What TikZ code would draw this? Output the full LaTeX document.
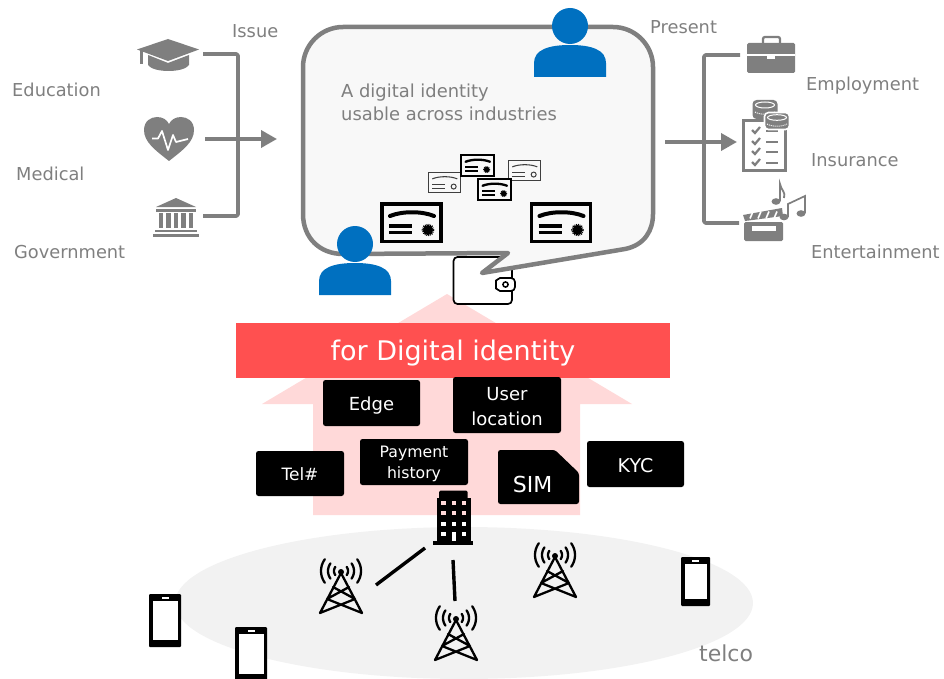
\documentclass[tikz,border=0pt]{standalone}
\usepackage{fontspec}
\setmainfont{DejaVu Sans}
\usetikzlibrary{arrows.meta}
\definecolor{gr}{HTML}{7F7F7F}
\definecolor{bubblefill}{HTML}{F8F8F8}
\definecolor{pinkarrow}{HTML}{FFD9D9}
\definecolor{banner}{HTML}{FF5050}
\definecolor{ground}{HTML}{F2F2F2}
\definecolor{person}{HTML}{0070C0}
\newcommand{\fsz}[1]{\fontsize{#1}{#1}\selectfont}
\newcommand{\sunk}[2]{\raisebox{-#1pt}[\height][\depth]{#2}}
\tikzset{
  lbl/.style={text=gr,font=\fsz{17.8},inner sep=0pt,anchor=west},
  blackbox/.style={fill=black,rounded corners=2.5pt,text=white,inner sep=0pt,align=center,font=\fsz{18}},
  connector/.style={draw=gr,line width=3.6pt,line join=round},
  flowarrow/.style={draw=gr,line width=3.6pt,-{Triangle[length=16pt,width=17pt]}},
  link/.style={draw=black,line width=3.4pt},
}
\newcommand{\cert}[5]{% x y width col linewidth
  \begin{scope}[shift={(#1,#2)},x=#3/63*1pt,y=-#3/63*1pt]
    \draw[#4,line width=#5pt,fill=bubblefill] (2,2) rectangle (61,39.5);
    \draw[#4,line width=#5pt*1.05,line cap=round] (10,14) .. controls (22,9) and (42,9) .. (54,14);
    \draw[#4,line width=#5pt*0.8] (9,24) -- (32,24) (9,30.5) -- (32,30.5);
    \ifdim#5pt>1.5pt
      \fill[#4] (48,28) circle (5);
      \draw[#4,line width=#5pt*0.5,dash pattern=on 0.9 off 0.9] (48,28) circle (5.4);
    \else
      \draw[#4,line width=#5pt] (48,28) circle (4.5);
    \fi
  \end{scope}}
\newcommand{\tower}[2]{%
  \begin{scope}[shift={(#1,#2)}]
    \fill (0,0) circle (3);
    \draw[line width=2.3pt,line cap=round,line join=round] (-21,41) -- (0,1) -- (21,41)
      (-8,15) -- (14,27) (8,15) -- (-14,27) (-14,27) -- (21,41) (14,27) -- (-21,41);
    \foreach \r in {7,13,20} {
      \draw[line width=2.3pt,line cap=round] plot[domain=-36:36,samples=12,smooth] ({\r*cos(\x)},{\r*sin(\x)-1});
      \draw[line width=2.3pt,line cap=round] plot[domain=-36:36,samples=12,smooth] ({-\r*cos(\x)},{\r*sin(\x)-1});
    }
  \end{scope}}
\newcommand{\phoneicon}[4]{%
  \fill[black,rounded corners=1pt] (#1,#2) rectangle (#3,#4);
  \fill[white] (#1+3.5,#2+7) rectangle (#3-3.5,#4-7);
  \fill[white] ({(#1+#3)/2-3.5},#2+3) rectangle ({(#1+#3)/2+3.5},#2+5);}
\newcommand{\personicon}[2]{%
  \begin{scope}[shift={(#1,#2)}]
    \fill[person] (0,0) circle (18);
    \fill[person] (-36,51) -- (-36,37) .. controls (-36,24) and (-22,19) .. (0,19) .. controls (22,19) and (36,24) .. (36,37) -- (36,51) -- cycle;
  \end{scope}}
\begin{document}
\begin{tikzpicture}[x=1pt,y=-1pt]
\useasboundingbox (0,0) rectangle (944,679);
% ground
\fill[ground] (464,603) ellipse [x radius=289pt,y radius=76pt];
% big arrow
\fill[pinkarrow] (447,294) -- (632,404) -- (580,404) -- (580,515) -- (313,515) -- (313,404) -- (262,404) -- cycle;
% banner
\node[fill=banner,minimum width=434pt,minimum height=55pt,inner sep=0pt,text=white,font=\fsz{27}] (banner) at (453,350.5) {\sunk{3}{for Digital identity}};
% wallet
\draw[black,line width=1.7pt,rounded corners=4pt,fill=white] (453.5,257) rectangle (512,304);
\draw[black,line width=1.7pt,rounded corners=4pt,fill=white] (515,278) -- (504,278) .. controls (499,278) and (496,281) .. (496,284.5) .. controls (496,288) and (499,291) .. (504,291) -- (515,291) -- cycle;
\draw[black,line width=1.5pt] (505.5,284.5) circle (2.6);
% bubble
\draw[gr,line width=4.5pt,fill=bubblefill,line join=round]
  (343,27) -- (613,27) .. controls (635,27) and (653,45) .. (653,67) -- (653,214)
  .. controls (653,230) and (645,245) .. (625,249) -- (482,273) -- (508,253) -- (343,254)
  .. controls (320,254) and (303,238) .. (303,214) -- (303,67) .. controls (303,45) and (321,27) .. (343,27) -- cycle;
\node[text=gr,font=\fsz{17.9},inner sep=0pt,anchor=west] (bubbletext1) at (341,93) {A digital identity};
\node[text=gr,font=\fsz{17.9},inner sep=0pt,anchor=west] (bubbletext2) at (341,113.5) {usable across industries};
% certificates
\cert{427}{171}{35}{gr!50!black}{1}
\cert{507}{159}{35}{gr!50!black}{1}
\cert{460}{154}{35}{black}{2.2}
\cert{477}{178}{35}{black}{2.2}
\cert{380}{202}{63}{black}{3.8}
\cert{529.5}{202}{63}{black}{3.8}
% persons
\personicon{570}{26}
\personicon{355}{244}
% left side icons
\fill[gr] (137,49.5) -- (168,39) -- (199,49.5) -- (168,61) -- cycle;
\fill[gr] (148,55) -- (168,63) -- (189,55) -- (189,65) .. controls (184,73) and (153,73) .. (148,65) -- cycle;
\draw[gr,line width=3pt] (141.5,50) -- (141.5,64);
\fill[gr] (169,161) .. controls (155,150) and (144,142) .. (144,130) .. controls (144,121) and (151,117) .. (157,117) .. controls (163,117) and (167,120) .. (169,124) .. controls (171,120) and (175,117) .. (181,117) .. controls (187,117) and (194,121) .. (194,130) .. controls (194,142) and (183,150) .. (169,161) -- cycle;
\draw[white,line width=1.7pt,line join=round] (152,138.5) -- (158,138.5) -- (162,131) -- (168,150) -- (173,135) -- (176,142) -- (188,139);
\fill[gr] (156,207) -- (176,198) -- (196,207) -- cycle;
\fill[gr] (156,209) rectangle (196,211.5);
\foreach \c in {158.5,166,173.5,181,188.5} {\fill[gr] (\c,213) rectangle (\c+4.5,228);}
\fill[gr] (155,230) rectangle (197,232);
\fill[gr] (153,234) rectangle (199,236.5);
% connectors left
\coordinate (issueA) at (203,54);
\coordinate (issueAc) at (238,54);
\coordinate (issueB) at (203,216);
\coordinate (issueBc) at (238,216);
\coordinate (issueC) at (205,139);
\coordinate (issueD) at (277,139);
\draw[connector,rounded corners=1.5pt] (issueA) -- (issueAc) -- (issueBc) -- (issueB);
\draw[flowarrow] (issueC) -- (issueD);
% connectors right
\coordinate (presA) at (740,55);
\coordinate (presAc) at (704,55);
\coordinate (presB) at (739,223);
\coordinate (presBc) at (704,223);
\coordinate (presC) at (665,142);
\coordinate (presD) at (737,142);
\draw[connector,rounded corners=1.5pt] (presA) -- (presAc) -- (presBc) -- (presB);
\draw[flowarrow] (presC) -- (presD);
% briefcase
\fill[gr,rounded corners=1.5pt] (747,43) rectangle (795,73);
\draw[gr,line width=2.3pt,rounded corners=2pt] (763,43) -- (763,37) -- (780,37) -- (780,43);
\draw[white,line width=1.2pt] (747,55) -- (795,55);
\fill[white] (767,54) rectangle (775,59);
% clipboard
\draw[gr,line width=3pt,fill=white] (743.5,120.5) rectangle (785.5,170.5);
\foreach \yy in {130,141,151,162} {
  \draw[gr,line width=2.2pt] (752,\yy) -- (755,\yy+3) -- (760,\yy-3);
  \draw[gr,line width=2.4pt] (766,\yy+1) -- (778,\yy+1);
}
% coins
\fill[gr,rounded corners=4pt] (752.5,100) rectangle (777.5,119);
\fill[gr] (753,104) -- (777,104) -- (777,113) -- (753,113) -- cycle;
\draw[white,line width=1pt] (765,105) ellipse [x radius=9.5pt,y radius=3pt];
\draw[white,line width=1pt,dash pattern=on 1pt off 1pt] (755,112) .. controls (760,115) and (770,115) .. (775,112);
\draw[white,line width=1.6pt,fill=gr,rounded corners=4pt] (764.5,112.5) rectangle (789.5,129.5);
\draw[white,line width=1pt] (777,117.5) ellipse [x radius=9.5pt,y radius=2.8pt];
\draw[white,line width=1pt,dash pattern=on 1pt off 1pt] (767,124) .. controls (772,127) and (782,127) .. (787,124);
% clapper
\fill[gr,rounded corners=1.5pt] (744,222) rectangle (783,241);
\fill[white] (752,226) rectangle (776,231);
\fill[gr] (743,215) -- (782,208) -- (783,216) -- (745,221) -- cycle;
\foreach \c in {750,758,766,774} {\draw[white,line width=1.6pt] (\c,218.5) -- (\c+3,211.5);}
% notes
\fill[gr] (776,201.5) ellipse [x radius=4.5pt,y radius=3.3pt];
\draw[gr,line width=1.8pt] (780,201) -- (780,184) .. controls (781,190) and (786,192) .. (784,198);
\fill[gr] (784,217) ellipse [x radius=4.5pt,y radius=3.3pt];
\fill[gr] (801,213.5) ellipse [x radius=4.5pt,y radius=3.3pt];
\draw[gr,line width=1.7pt] (788,217) -- (788,204) -- (805,196) -- (805,213);
% black boxes
\node[blackbox,minimum width=97pt,minimum height=46pt] (edge) at (371.5,403) {\sunk{3}{Edge}};
\node[blackbox,minimum width=108pt,minimum height=56pt] (userloc) at (507,405) {\sunk{2}{User}\\[7pt]\sunk{2}{location}};
\node[blackbox,minimum width=88pt,minimum height=45pt,font=\fsz{17}] (tel) at (300,473.5) {\sunk{1}{Tel\#}};
\node[blackbox,minimum width=108pt,minimum height=46pt,font=\fsz{15.7}] (payment) at (414,462) {\sunk{2}{Payment}\\[5pt]\sunk{2}{history}};
\node[blackbox,minimum width=97pt,minimum height=46pt,font=\fsz{19}] (kyc) at (635.5,464) {\sunk{2}{KYC}};
\fill[black,rounded corners=2.5pt] (498,450) -- (555,450) -- (579,473) -- (579,504) -- (498,504) -- cycle;
\node[text=white,font=\fsz{22},inner sep=0pt] (sim) at (532.5,484.5) {SIM};
% building
\fill[black] (436.5,545) rectangle (470.5,498);
\fill[black,rounded corners=1.5pt] (439,500) -- (439,490.5) -- (467.5,490.5) -- (467.5,500) -- cycle;
\fill[black] (433,541) rectangle (473,545);
\foreach \wy/\wc in {501/pinkarrow,511/pinkarrow,522/white,532/white} {
  \foreach \wx in {441,451.5,461.5} {\fill[\wc] (\wx,\wy) rectangle (\wx+4.5,\wy+4);}
}
\fill[white] (451.5,533) rectangle (456,541);
% towers
\tower{341}{572}
\tower{456}{619}
\tower{555}{556}
% links
\coordinate (linkA1) at (376,585);
\coordinate (linkA2) at (425,548);
\coordinate (linkB1) at (453,560);
\coordinate (linkB2) at (455,601);
\draw[link] (linkA1) -- (linkA2);
\draw[link] (linkB1) -- (linkB2);
% phones
\phoneicon{149}{594}{181}{647}
\phoneicon{235}{627}{267}{681}
\phoneicon{681}{557}{710}{606}
% labels
\node[lbl] (education) at (12,89.5) {Education};
\node[lbl] (medical) at (16,173.5) {Medical};
\node[lbl] (government) at (14,252.5) {Government};
\node[lbl] (issue) at (232,31.5) {Issue};
\node[lbl] (present) at (650,27.5) {Present};
\node[lbl] (employment) at (806,85.5) {Employment};
\node[lbl] (insurance) at (811,160.5) {Insurance};
\node[lbl] (entertainment) at (811,251.5) {Entertainment};
\node[lbl,font=\fsz{22}] (telco) at (699,653.5) {telco};
\end{tikzpicture}
\end{document}
